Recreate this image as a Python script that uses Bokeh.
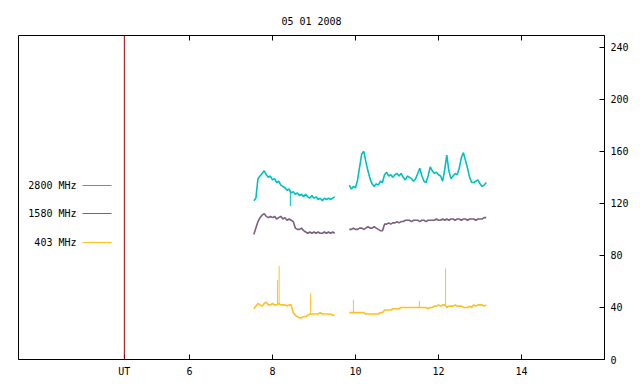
import numpy as np
from bokeh.plotting import figure
from bokeh.models import Range1d, FixedTicker, Span
from bokeh.core.properties import value
from bokeh.embed import file_html
from bokeh.resources import INLINE

title_text = "05 01 2008"
series_names = ["2800 MHz", "1580 MHz", "403 MHz"]
series_colors = ["#00c0c0", "#7d5f7d", "#ffc020"]

# sample times (UT hours) for the two observing segments
t_seg1 = np.round(np.arange(7.55, 9.5001, 0.05), 2)
t_seg2 = np.round(np.arange(9.85, 13.1501, 0.05), 2)

f2800_seg1 = [122, 124, 139, 141, 143, 145, 142, 140, 141, 138, 139, 136, 137, 134, 133, 132, 130, 131, 128, 129,
              127, 128, 126, 127, 125, 127, 125, 124, 126, 124, 125, 123, 124, 122, 124, 123, 124, 123, 124, 125]
f1580_seg1 = [96, 101, 106, 109, 111, 112, 110, 109, 110, 109, 110, 108, 109, 110, 108, 109, 107, 108, 107, 106,
              101, 100, 100, 101, 99, 98, 97, 98, 97, 98, 97, 98, 97, 97, 98, 97, 98, 97, 98, 97]
f403_seg1 = [39, 41, 43, 42, 41, 43, 44, 42, 42, 43, 42, 42, 43, 42, 42, 42, 41, 42, 42, 36,
             34, 33, 32, 32, 33, 33, 34, 35, 35, 35, 35, 35, 36, 35, 35, 35, 35, 35, 34, 34]

f2800_seg2 = [134, 131, 133, 132, 138, 148, 158, 160, 152, 145, 139, 135, 133, 135, 134, 137, 136, 142, 144, 141,
              142, 140, 142, 143, 141, 143, 140, 138, 141, 140, 139, 137, 139, 143, 147, 141, 137, 136, 141, 148,
              145, 143, 144, 142, 141, 137, 146, 157, 145, 139, 141, 143, 142, 147, 155, 159, 153, 147, 140, 136,
              136, 137, 138, 135, 133, 134, 136]
f1580_seg2 = [100, 100, 101, 100, 100, 101, 101, 100, 101, 102, 101, 101, 102, 101, 100, 99, 99, 104, 104, 105,
              104, 105, 105, 106, 105, 106, 106, 107, 107, 107, 106, 107, 107, 107, 106, 107, 107, 106, 107, 107,
              107, 107, 108, 107, 107, 108, 107, 108, 107, 108, 108, 107, 108, 108, 107, 108, 108, 107, 108, 108,
              108, 107, 108, 108, 108, 109, 109]
f403_seg2 = [36, 36, 36, 36, 36, 36, 36, 36, 35, 35, 35, 35, 35, 35, 35, 36, 36, 38, 38, 38,
             38, 39, 39, 39, 39, 40, 40, 40, 40, 40, 40, 40, 40, 40, 40, 40, 40, 40, 39, 40,
             40, 41, 41, 42, 41, 42, 42, 40, 41, 41, 41, 42, 41, 41, 41, 40, 40, 40, 41, 40,
             42, 41, 42, 42, 42, 41, 42]

# short spikes: time, base value, peak value, series index
spike_times = [8.12, 8.16, 8.92, 9.95, 11.54, 12.17, 8.43]
spike_base = [42, 42, 35, 36, 40, 42, 130]
spike_peak = [61, 72, 51, 46, 45, 70, 118]
spike_series = [2, 2, 2, 2, 2, 2, 0]

x_ticks = [6, 8, 10, 12, 14]
y_ticks = [0, 40, 80, 120, 160, 200, 240]
ut_marker = 4.43

X0, X1 = 1.88, 16.0
Y0, Y1 = 0, 249
W, H = 640, 384
FL, FR, FT, FB = 18, 36, 35, 25
FW, FH = W - FL - FR, H - FT - FB
MONO = "DejaVu Sans Mono"

p = figure(width=W, height=H, output_backend="svg", toolbar_location=None,
           x_range=Range1d(X0, X1), y_range=Range1d(Y0, Y1),
           y_axis_location="right", min_border_left=FL, min_border_right=FR,
           min_border_top=FT, min_border_bottom=FB)
p.grid.visible = False
p.background_fill_color = "white"
p.border_fill_color = "white"
p.outline_line_color = "black"
p.outline_line_width = 1

p.title.text = title_text
p.title.align = "center"
p.title.text_font = MONO
p.title.text_font_size = "10px"
p.title.text_font_style = "normal"
p.title.text_color = "black"
p.title.standoff = 17

xa = p.xaxis[0]
xa.ticker = FixedTicker(ticks=[ut_marker] + x_ticks)
xa.major_label_overrides = {ut_marker: "UT"}
ya = p.yaxis[0]
ya.ticker = FixedTicker(ticks=y_ticks)
for ax in (xa, ya):
    ax.major_tick_in = 5
    ax.major_tick_out = 0
    ax.minor_tick_line_color = None
    ax.major_label_text_font = MONO
    ax.major_label_text_font_size = "10px"
    ax.major_label_text_color = "black"
    ax.axis_line_color = "black"
    ax.major_tick_line_color = "black"
    ax.major_label_standoff = 6

# mirrored tick marks on the top border (5 px long)
top_tick_len = 5 / FH * (Y1 - Y0)
p.segment(x0=x_ticks, x1=x_ticks, y0=[Y1] * len(x_ticks), y1=[Y1 - top_tick_len] * len(x_ticks),
          line_color="black", line_width=1)

p.add_layout(Span(location=ut_marker, dimension="height", line_color="#a00000", line_width=1))

nan = [np.nan]
t_all = list(t_seg1) + nan + list(t_seg2)
series = [f2800_seg1 + nan + f2800_seg2,
          f1580_seg1 + nan + f1580_seg2,
          f403_seg1 + nan + f403_seg2]
for vals, col in zip(series, series_colors):
    p.line(t_all, vals, line_color=col, line_width=1.6)

p.segment(x0=spike_times, y0=spike_base, x1=spike_times, y1=spike_peak,
          line_color=[series_colors[i] for i in spike_series], line_width=1)

# legend (gnuplot style: text then line sample), positioned in page pixels
def px2x(px):
    return X0 + (px - FL) / FW * (X1 - X0)

def py2y(py):
    return Y0 + (FT + FH - py) / FH * (Y1 - Y0)

leg_py = [185, 213, 242]
p.text(x=[px2x(76)] * 3, y=[py2y(v) for v in leg_py], text=series_names,
       text_font=value(MONO), text_font_size="10px", text_align="right",
       text_baseline="middle", text_color="black")
p.segment(x0=[px2x(82)] * 3, x1=[px2x(111)] * 3, y0=[py2y(v) for v in leg_py],
          y1=[py2y(v) for v in leg_py], line_color=series_colors, line_width=1)

open("out.html", "w").write(file_html(p, INLINE))
